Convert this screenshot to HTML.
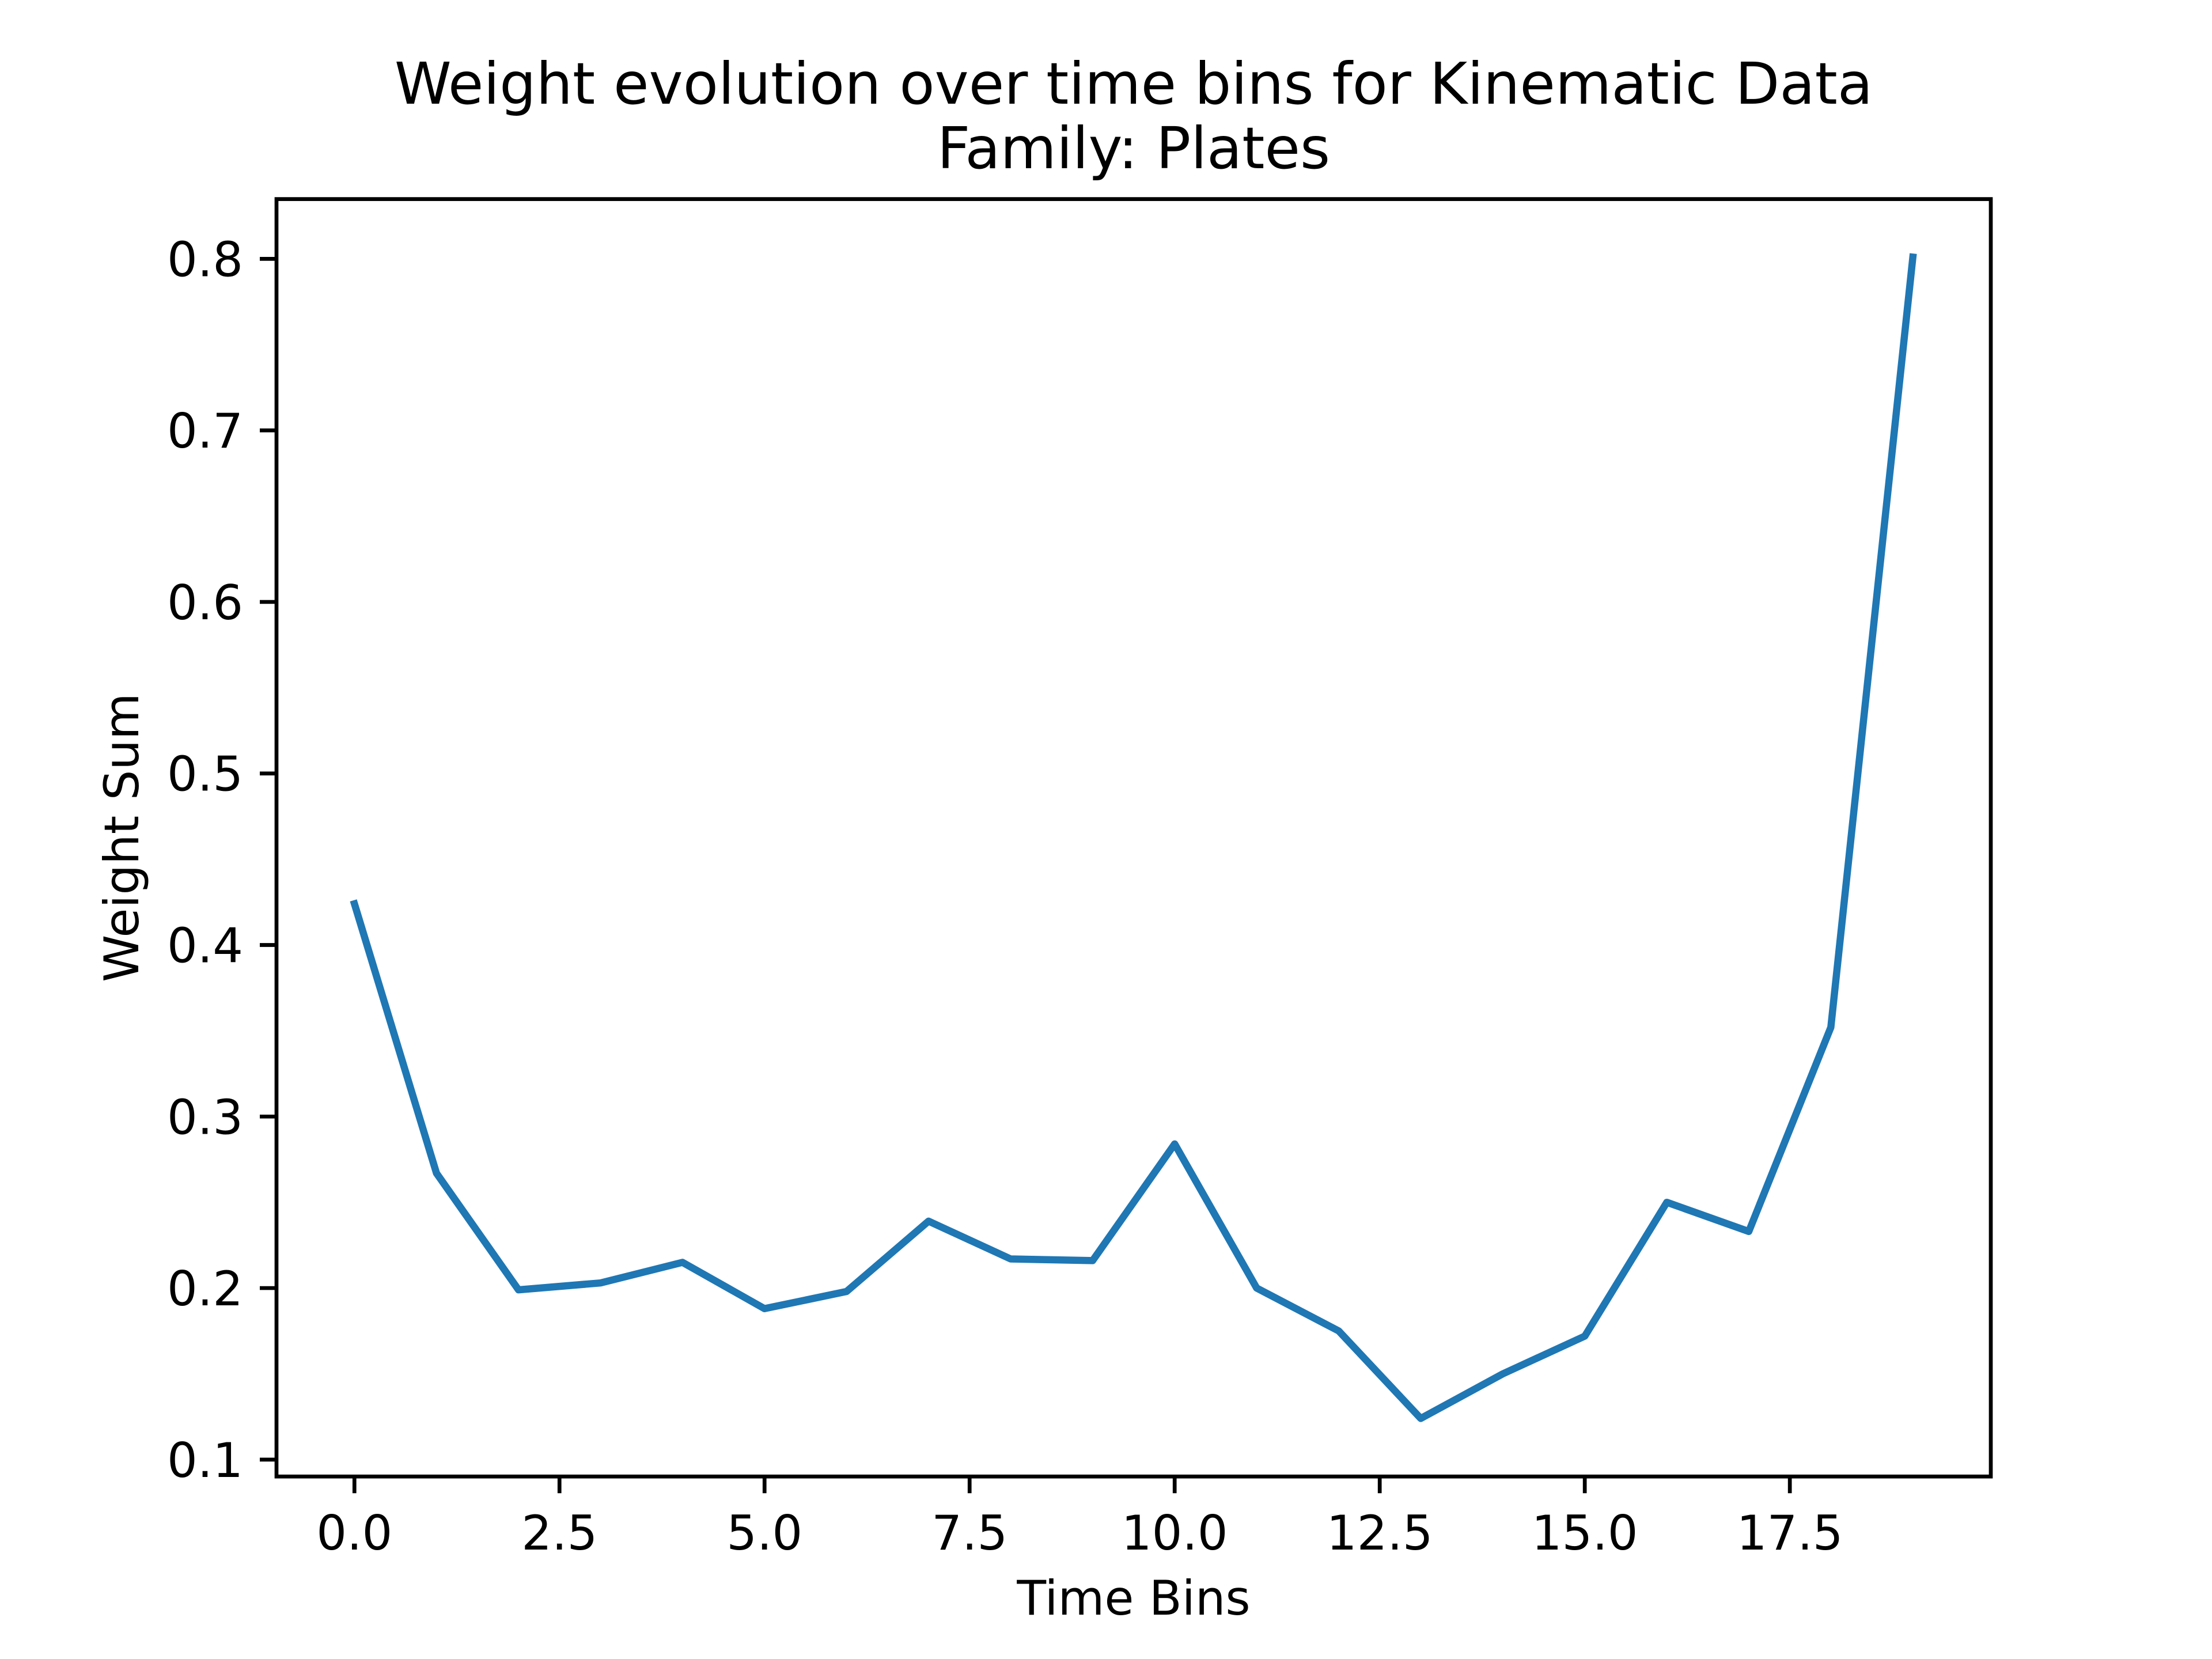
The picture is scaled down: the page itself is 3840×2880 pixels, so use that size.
<!DOCTYPE html>
<html><head><meta charset="utf-8"><style>
html,body{margin:0;padding:0;background:#fff}
svg{display:block;font-family:"DejaVu Sans","Liberation Sans",sans-serif}
</style></head><body>
<svg id="chart" width="3840" height="2880" viewBox="0 0 3840 2880">
<rect width="3840" height="2880" fill="#fff"/>
<text x="1968" y="180" font-size="100" text-anchor="middle">Weight evolution over time bins for Kinematic Data</text>
<text x="1968" y="292" font-size="100" text-anchor="middle">Family: Plates</text>
<g id="plot"></g>
<text x="1968" y="2840" font-size="83" text-anchor="middle" transform="translate(0,-37)">Time Bins</text>
<text transform="translate(240,1454) rotate(-90)" font-size="83" text-anchor="middle">Weight Sum</text>
</svg>
<script>
const bins=[0,1,2,3,4,5,6,7,8,9,10,11,12,13,14,15,16,17,18,19];
const weights=[0.424,0.267,0.199,0.203,0.215,0.188,0.198,0.239,0.217,0.216,0.284,0.200,0.175,0.124,0.150,0.172,0.250,0.233,0.352,0.801];
const xTicks=[0,2.5,5,7.5,10,12.5,15,17.5];
const xTickLabels=["0.0","2.5","5.0","7.5","10.0","12.5","15.0","17.5"];
const yTicks=[0.1,0.2,0.3,0.4,0.5,0.6,0.7,0.8];
const yTickLabels=["0.1","0.2","0.3","0.4","0.5","0.6","0.7","0.8"];

const L=480,R=3456,T=345.6,B=2563.2;
const xmin=Math.min(...bins),xmax=Math.max(...bins),xm=(xmax-xmin)*0.05;
const ymin=Math.min(...weights),ymax=Math.max(...weights),ym=(ymax-ymin)*0.05;
const x=v=>L+(v-(xmin-xm))/((xmax+xm)-(xmin-xm))*(R-L);
const y=v=>B-(v-(ymin-ym))/((ymax+ym)-(ymin-ym))*(B-T);
const NS="http://www.w3.org/2000/svg";
const g=document.getElementById('plot');
function mk(t,a){const e=document.createElementNS(NS,t);for(const k in a)e.setAttribute(k,a[k]);g.appendChild(e);return e;}

let d=bins.map((b,i)=>(i?'L':'M')+x(b).toFixed(1)+','+y(weights[i]).toFixed(1)).join(' ');
const line=mk('path',{d:d,fill:'none',stroke:'#1f77b4','stroke-width':12.5,'stroke-linecap':'square','stroke-linejoin':'round'});



xTicks.forEach((v,i)=>{
  const t=mk('line',{x1:x(v),x2:x(v),y1:B,y2:B+29,stroke:'#000','stroke-width':6.7});
  
  
  const s=mk('text',{x:x(v),y:B+127,'font-size':83,'text-anchor':'middle'});
  s.textContent=xTickLabels[i];
  
  
});
yTicks.forEach((v,i)=>{
  const t=mk('line',{x1:L-29,x2:L,y1:y(v),y2:y(v),stroke:'#000','stroke-width':6.7});
  
  
  const s=mk('text',{x:L-58,y:y(v)+30,'font-size':83,'text-anchor':'end'});
  s.textContent=yTickLabels[i];
  
  
});
const f=mk('rect',{x:L,y:T,width:R-L,height:B-T,fill:'none',stroke:'#000','stroke-width':6.7});


</script>
</body></html>
